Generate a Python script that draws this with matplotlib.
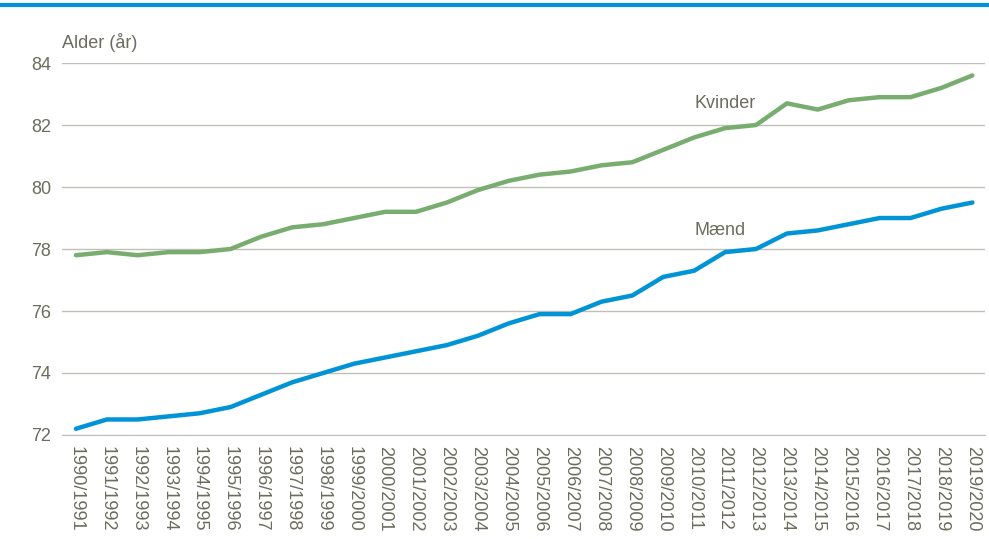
import matplotlib.pyplot as plt
from matplotlib import font_manager

# Middellevetid for kvinder og mænd
perioder = [f"{a}/{a + 1}" for a in range(1990, 2020)]
kvinder = [77.8, 77.9, 77.8, 77.9, 77.9, 78.0, 78.4, 78.7, 78.8, 79.0,
           79.2, 79.2, 79.5, 79.9, 80.2, 80.4, 80.5, 80.7, 80.8, 81.2,
           81.6, 81.9, 82.0, 82.7, 82.5, 82.8, 82.9, 82.9, 83.2, 83.6]
maend = [72.2, 72.5, 72.5, 72.6, 72.7, 72.9, 73.3, 73.7, 74.0, 74.3,
         74.5, 74.7, 74.9, 75.2, 75.6, 75.9, 75.9, 76.3, 76.5, 77.1,
         77.3, 77.9, 78.0, 78.5, 78.6, 78.8, 79.0, 79.0, 79.3, 79.5]
y_ticks = [72, 74, 76, 78, 80, 82, 84]

navne = {f.name for f in font_manager.fontManager.ttflist}
font = 'Liberation Sans Narrow' if 'Liberation Sans Narrow' in navne else 'Liberation Sans'
plt.rcParams['font.family'] = [font, 'DejaVu Sans']

tekst = '#6b6b5e'
groen = '#78ad6f'
blaa = '#0094d6'

fig = plt.figure(figsize=(9.89, 5.39), dpi=100)
ax = fig.add_axes([0.0627, 0.193, 0.933, 0.690])

x = range(len(perioder))
ax.plot(x, kvinder, color=groen, lw=3.2, solid_capstyle='round')
ax.plot(x, maend, color=blaa, lw=3.2, solid_capstyle='round')

ax.set_ylim(72, 84)
ax.set_xlim(-0.45, len(perioder) - 0.6)
ax.set_yticks(y_ticks)
ax.set_xticks(list(x))
ax.set_xticklabels(perioder, rotation=-90, fontsize=13, color=tekst)
ax.tick_params(axis='y', labelsize=13, labelcolor=tekst, length=0, pad=8)
ax.tick_params(axis='x', length=0, pad=8)
ax.grid(axis='y', color='#c0c0bb', lw=1)
ax.set_axisbelow(True)
for s in ['top', 'right', 'left']:
    ax.spines[s].set_visible(False)
ax.spines['bottom'].set_color('#c0c0bb')

ax.text(0.0, 1.03, 'Alder (år)', transform=ax.transAxes, fontsize=13,
        color=tekst, ha='left', va='bottom')
ax.text(20.0, 82.7, 'Kvinder', fontsize=13, color=tekst, ha='left', va='center')
ax.text(20.0, 78.6, 'Mænd', fontsize=13, color=tekst, ha='left', va='center')

# blå streg øverst
fig.add_artist(plt.Line2D([0, 1], [0.991, 0.991], color=blaa, lw=3,
                          transform=fig.transFigure))

fig.savefig('out.png', dpi=100)
